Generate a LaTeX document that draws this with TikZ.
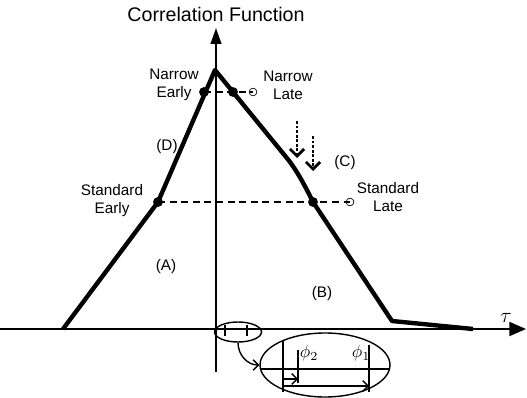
\documentclass[tikz,border=0pt]{standalone}
\usepackage{xcolor}
\usepackage{fontspec}
\setmainfont{Liberation Sans}
\usetikzlibrary{arrows.meta,shapes.geometric}

\begin{document}
\begin{tikzpicture}[
    x=0.02cm, y=-0.02cm,
    lbl/.style={font=\fontsize{8.7}{10.2}\selectfont, align=center, inner sep=0pt},
    axis/.style={line width=1.1pt},
    corr/.style={line width=2.5pt, line join=round},
    dot/.style={circle, fill=black, inner sep=0pt, minimum size=5.6pt},
    opendot/.style={circle, draw=black, thin, inner sep=0pt, minimum size=4.4pt},
    spacing/.style={dash pattern=on 4pt off 2.6pt, line width=0.9pt},
    shiftarrow/.style={dash pattern=on 1.6pt off 1pt, line width=1.6pt, -{Straight Barb[length=4pt,width=8pt]}},
    zoomring/.style={ellipse, draw=black, line width=0.8pt, inner sep=0pt}
]
    \useasboundingbox (0,0) rectangle (527,398);

    % Axes
    \coordinate (ybot) at (216,372);
    \coordinate (ytop) at (216,28);
    \coordinate (xleft) at (0,329);
    \coordinate (xright) at (526,329);
    \draw[axis, -{Triangle[length=9pt,width=6pt]}] (ybot) -- (ytop);
    \draw[axis, -{Triangle[length=9.5pt,width=8pt]}] (xleft) -- (xright);
    \node[font=\fontsize{11.2}{13}\selectfont] (title) at (216,14) {Correlation Function};
    \node[font=\large] (tau) at (506,318) {$\tau$};

    % Correlation triangle
    \coordinate (foot) at (63,329);
    \coordinate (peak) at (215,70);
    \coordinate (knee) at (392,321);
    \coordinate (tail) at (473,329);
    \draw[corr] (foot) -- (158,202) -- (peak) -- (286,157)
        .. controls (297,170) and (306,188) .. (313,202) -- (knee) -- (tail);

    % Correlator samples
    \node[dot] (ne) at (204,92) {};
    \node[dot] (nl) at (233,92) {};
    \node[dot] (se) at (158,202) {};
    \node[dot] (sl) at (313,202) {};
    \node[opendot] (nlo) at (253,92) {};
    \node[opendot] (slo) at (350,202) {};
    \draw[spacing] (ne.center) -- (nlo.center);
    \draw[spacing] (se.center) -- (slo.center);

    % Labels
    \node[lbl] (nelbl) at (174,85) {Narrow\\Early};
    \node[lbl] (nllbl) at (288,85) {Narrow\\Late};
    \node[lbl] (selbl) at (112,201) {Standard\\Early};
    \node[lbl] (sllbl) at (388,197) {Standard\\Late};
    \node[lbl] (regd) at (167,147) {(D)};
    \node[lbl] (regc) at (345,163) {(C)};
    \node[lbl] (rega) at (166,267) {(A)};
    \node[lbl] (regb) at (322,294) {(B)};

    % Shift arrows
    \coordinate (s1a) at (297,121);
    \coordinate (s1b) at (297,158);
    \coordinate (s2a) at (313,136);
    \coordinate (s2b) at (313,171);
    \draw[shiftarrow] (s1a) -- (s1b);
    \draw[shiftarrow] (s2a) -- (s2b);

    % Zoomed spacing
    \node[zoomring, minimum width=0.94cm, minimum height=0.4cm] (small) at (238,332) {};
    \draw[line width=0.8pt] (225,325) -- (225,336);
    \draw[line width=0.8pt] (247,325) -- (247,336);
    \node[zoomring, minimum width=2.6cm, minimum height=1.28cm] (big) at (325,365) {};
    \draw[line width=0.8pt, -{Straight Barb[length=3pt,width=6pt]}] (small.south) to[out=-90, in=180] (big.west);

    \coordinate (zl) at (261,369);
    \coordinate (zr) at (389,369);
    \draw[line width=1.1pt] (zl) -- (zr);
    \draw[line width=1.4pt] (283,340) -- (283,392);
    \draw[line width=0.8pt] (298,350) -- (298,383);
    \draw[line width=0.8pt] (369,345) -- (369,392);
    \draw[line width=0.8pt, -{Straight Barb[length=3pt,width=6pt]}] (283,379) -- (298,379);
    \draw[line width=0.8pt, -{Straight Barb[length=3pt,width=6pt]}] (283,386) -- (369,386);
    \node (phi2) at (309,353) {$\phi_2$};
    \node (phi1) at (361,353) {$\phi_1$};
\end{tikzpicture}
\end{document}
